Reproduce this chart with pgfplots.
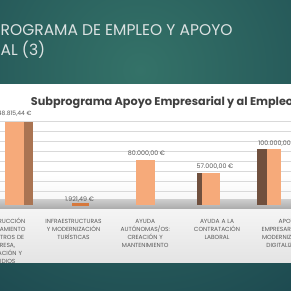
\documentclass[border=0pt]{standalone}
\usepackage{fontspec}
\setmainfont{Poppins}
\usepackage{pgfplots}
\pgfplotsset{compat=1.18}
\definecolor{tealA}{RGB}{52,114,104}
\definecolor{tealB}{RGB}{27,70,78}
\definecolor{slideT}{RGB}{220,226,226}
\definecolor{panelB}{RGB}{228,228,228}
\definecolor{floorA}{RGB}{205,205,205}
\definecolor{floorB}{RGB}{170,170,170}
\definecolor{frontc}{RGB}{246,170,122}
\definecolor{sideA}{RGB}{170,116,82}
\definecolor{sideB}{RGB}{112,80,62}
\definecolor{orangeD}{RGB}{214,120,60}
\definecolor{lab}{RGB}{89,89,89}
\definecolor{ttl}{RGB}{64,64,64}
\definecolor{gridc}{RGB}{217,217,217}
\begin{document}
\begin{tikzpicture}[x=1pt,y=1pt]
\useasboundingbox (0,0) rectangle (291,291);
\clip (0,0) rectangle (291,291);
\fill[tealB] (0,0) rectangle (291,291);
\shade[inner color=tealA, outer color=tealB] (-160,-79) rectangle (440,521);
\node[anchor=base west, inner sep=0pt, text=slideT, font=\fontsize{15.5}{18}\selectfont] at (0.5,255) {ROGRAMA DE EMPLEO Y APOYO};
\node[anchor=base west, inner sep=0pt, text=slideT, font=\fontsize{15.5}{18}\selectfont] at (0.5,235.5) {AL (3)};
\shade[top color=white, bottom color=panelB, middle color=white] (0,28) rectangle (291,206);
\shade[top color=floorA, bottom color=floorB] (0,82) rectangle (291,91.5);
\node[anchor=base west, inner sep=0pt, text=ttl, font=\bfseries\fontsize{11.25}{14}\selectfont] at (30.7,185) {Subprograma Apoyo Empresarial y al Empleo};
\begin{axis}[
  at={(-34.125pt,86pt)}, anchor=south west,
  scale only axis, width=358.75pt, height=100pt,
  xmin=-0.5, xmax=4.5, ymin=0, ymax=179100,
  axis line style={draw=none},
  major tick length=0pt,
  ytick={23820,41730,59640,77550,95460,113370,131280,149190},
  yticklabels={},
  ymajorgrids, major grid style={draw=gridc, line width=0.6pt},
  xtick={0,1,2,3,4},
  xticklabels={
    {CONSTRUCCIÓN\\Y EQUIPAMIENTO\\DE CENTROS DE\\EMPRESA,\\FORMACIÓN Y\\ESTUDIOS},
    {INFRAESTRUCTURAS\\Y MODERNIZACIÓN\\TURÍSTICAS},
    {AYUDA\\AUTÓNOMAS/OS:\\CREACIÓN Y\\MANTENIMIENTO},
    {AYUDA A LA\\CONTRATACIÓN\\LABORAL},
    {APOYO\\EMPRESARIAL PARA\\MODERNIZACIÓN Y\\DIGITALIZACIÓN}},
  xticklabel style={font=\fontsize{5.9}{8}\selectfont, text=lab, align=center, text width=70pt, inner sep=0pt, anchor=base, yshift=-18.7pt},
  clip=false,
  nodes near coords style={font=\fontsize{6.3}{7}\selectfont, text=lab, inner sep=0pt, anchor=south},
]
% side faces
\addplot[ybar, fill=sideA, draw=none, bar width=10.3pt, bar shift=26.1pt] coordinates {(0,148815.44)};
\addplot[ybar, fill=sideB, draw=none, bar width=5pt, bar shift=-17.8pt] coordinates {(3,57000)};
\addplot[ybar, fill=sideB, draw=none, bar width=10pt, bar shift=-27.05pt] coordinates {(4,100000)};
% front faces
\addplot[ybar, fill=frontc, draw=none, bar width=18.7pt, bar shift=12.6pt, point meta=explicit symbolic, nodes near coords, nodes near coords style={xshift=12pt, yshift=5.5pt, font=\fontsize{6}{7}\selectfont}] coordinates {(0,148815.44) [148.815,44 €]};
\addplot[ybar, fill=orangeD, draw=orangeD, line width=1.2pt, bar width=16pt, bar shift=7pt, point meta=explicit symbolic, nodes near coords, nodes near coords style={xshift=6pt, yshift=1pt}] coordinates {(1,1921.49) [1.921,49 €]};
\addplot[ybar, fill=frontc, draw=none, bar width=19.3pt, bar shift=0.1pt, point meta=explicit symbolic, nodes near coords, nodes near coords style={xshift=1.25pt, yshift=3.5pt}] coordinates {(2,80000) [80.000,00 €]};
\addplot[ybar, fill=frontc, draw=none, bar width=18.3pt, bar shift=-6.15pt, point meta=explicit symbolic, nodes near coords, nodes near coords style={xshift=-2pt, yshift=3.5pt}] coordinates {(3,57000) [57.000,00 €]};
\addplot[ybar, fill=frontc, draw=none, bar width=14.3pt, bar shift=-14.9pt, point meta=explicit symbolic, nodes near coords, nodes near coords style={xshift=-10.75pt, yshift=3pt}] coordinates {(4,100000) [100.000,00 €]};
\end{axis}
\end{tikzpicture}
\end{document}
